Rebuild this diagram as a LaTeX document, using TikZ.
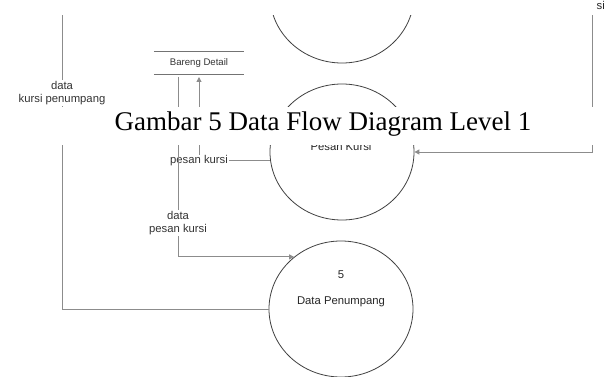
\documentclass[tikz,border=0pt]{standalone}
\usepackage{fontspec}
\setmainfont{Liberation Serif}
\newfontfamily\diagfont{Liberation Sans}
\usetikzlibrary{shapes.geometric,arrows.meta}

\begin{document}
\begin{tikzpicture}[x=1pt,y=-1pt,
  proc/.style={ellipse,draw=black!75,line width=0.8pt,minimum width=144pt,minimum height=136pt,inner sep=0pt},
  flow/.style={draw=black!45,line width=1pt},
  arr/.style={flow,-{Triangle[length=5pt,width=5pt]}},
  lbl/.style={font=\diagfont\fontsize{11.3}{13.5}\selectfont,text=black!80,fill=white,inner sep=1pt,align=center},
  txt/.style={font=\diagfont\fontsize{11.3}{13.5}\selectfont,text=black!85,inner sep=0pt},
  storetxt/.style={font=\diagfont\fontsize{9.6}{11}\selectfont,text=black!80,minimum width=90pt,minimum height=22pt,inner sep=0pt},
  storeline/.style={draw=black!55,line width=0.8pt},
  titletxt/.style={font=\fontsize{27}{30}\selectfont,text=black,inner sep=0pt}
]
\useasboundingbox (0,0) rectangle (615,377);

% processes
\node[proc] (p3) at (342,-5) {};
\node[proc] (p4) at (342,152) {};
\node[proc] (p5) at (341,309) {};
\node[txt] (p4name) at (341,146) {Pesan Kursi};
\node[txt] (p5num) at (341,275) {5};
\node[txt] (p5name) at (341,302) {Data Penumpang};

% data store
\node[storetxt] (store) at (199,63) {Bareng Detail};
\draw[storeline] (store.north west) -- (store.north east);
\draw[storeline] (store.south west) -- (store.south east);

% free ends of the outer flows
\coordinate (kp) at (62,15);
\coordinate (kr) at (592,15);
\coordinate (sd) at (178,77);
\coordinate (su) at (199,77);

% flows
\draw[flow] (p5.west) -| (kp);
\node[lbl] (lkp) at (62,93) {data\\kursi penumpang};

\draw[arr] (kr) |- (p4.east);

\draw[arr] (p4.187) -| (su);
\node[lbl] (lpk) at (199,161) {pesan kursi};

\draw[arr] (sd) |- (p5.132);
\node[lbl] (ldpk) at (178,223) {data\\pesan kursi};

% caption band
\fill[white] (0,107) rectangle (615,145);
\node[titletxt,anchor=base] (title) at (323,131) {Gambar 5 Data Flow Diagram Level 1};

% top band
\fill[white] (0,0) rectangle (615,15);
\node[txt,anchor=base east] (frag) at (605,10) {si};
\end{tikzpicture}
\end{document}
